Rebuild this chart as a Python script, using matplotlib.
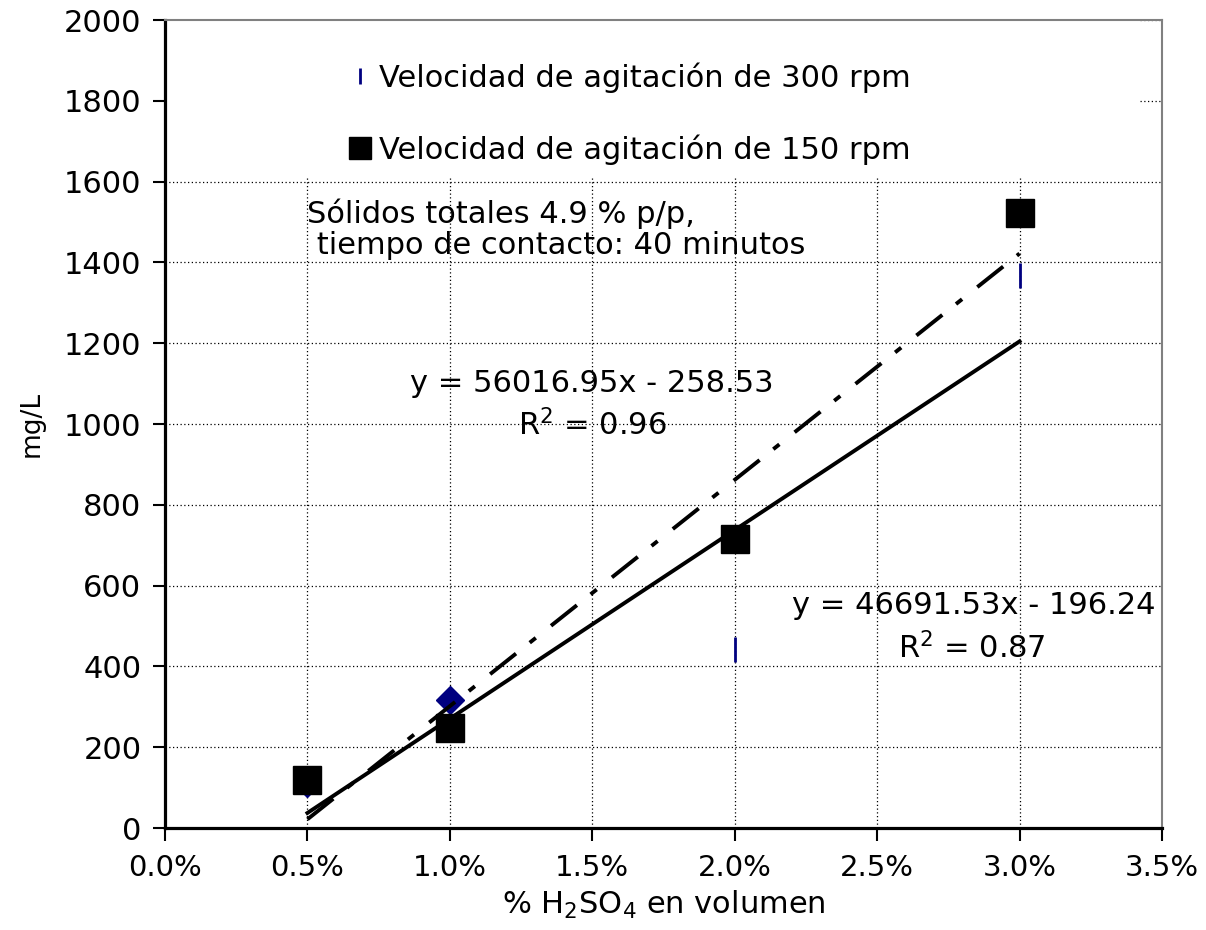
import matplotlib
matplotlib.use("Agg")
import matplotlib.pyplot as plt
import numpy as np
from matplotlib.ticker import PercentFormatter, MultipleLocator
from matplotlib.lines import Line2D
from matplotlib.patches import Rectangle

plt.rcParams['font.family'] = ['DejaVu Sans']

# ---- data ----
acid = [0.005, 0.01, 0.02, 0.03]          # fraction H2SO4
rpm300 = [112, 318, 442, 1370]            # mg/L
rpm150 = [120, 248, 715, 1522]            # mg/L
fit300 = (46691.53, -196.24)              # slope, intercept
fit150 = (56016.95, -258.53)
r2_300 = 0.87
r2_150 = 0.96
label300 = "Velocidad de agitación de 300 rpm"
label150 = "Velocidad de agitación de 150 rpm"
note = "Sólidos totales 4.9 % p/p,\n tiempo de contacto: 40 minutos"

fig = plt.figure(figsize=(12.06, 9.3), dpi=100)
ax = fig.add_axes([165/1206, 1-828/930, (1162-165)/1206, (828-20)/930])

ax.set_xlim(0, 0.035)
ax.set_ylim(0, 2000)
ax.xaxis.set_major_locator(MultipleLocator(0.005))
ax.yaxis.set_major_locator(MultipleLocator(200))
ax.xaxis.set_major_formatter(PercentFormatter(xmax=1, decimals=1))

ax.set_axisbelow(True)
ax.grid(True, color='black', linestyle=(0, (1, 2)), linewidth=0.9)

# white legend area covering grid
ax.add_patch(Rectangle((0, (828-178)/808), (1138-165)/997, 1, transform=ax.transAxes,
                       facecolor='white', edgecolor='none', zorder=1))

navy = '#000080'
ax.plot(acid, rpm300, linestyle='none', marker='|', markersize=18,
        markeredgewidth=2, color=navy, zorder=2)
ax.plot(acid[:2], rpm300[:2], linestyle='none', marker='D', markersize=14,
        color=navy, zorder=2)
ax.plot(acid, rpm150, linestyle='none', marker='s', markersize=20,
        color='black', zorder=3)

xl = np.array([acid[0], acid[-1]])
ax.plot(xl, fit300[0]*xl + fit300[1], color='black', linewidth=2.8, zorder=4)
ax.plot(xl, fit150[0]*xl + fit150[1], color='black', linewidth=2.8,
        linestyle=(0, (8.5, 4.5, 2, 5)), zorder=4)

fs = 22
ax.text(0.0150, 1100, f"y = {fit150[0]:.2f}x - {abs(fit150[1]):.2f}", fontsize=fs,
        ha='center', va='center', zorder=5)
ax.text(0.0150, 997, f"R$^2$ = {r2_150:.2f}", fontsize=fs, ha='center', va='center', zorder=5)
ax.text(0.0284, 550, f"y = {fit300[0]:.2f}x - {abs(fit300[1]):.2f}", fontsize=fs,
        ha='center', va='center', zorder=5)
ax.text(0.0283, 446, f"R$^2$ = {r2_300:.2f}", fontsize=fs, ha='center', va='center', zorder=5)
ax.text(0.0050, 1482, note, fontsize=fs, ha='left', va='center', linespacing=1.1, zorder=5)

handles = [Line2D([], [], linestyle='none', marker='|', markersize=12, markeredgewidth=2, color=navy),
           Line2D([], [], linestyle='none', marker='s', markersize=16, color='black')]
leg = ax.legend(handles, [label300, label150], loc='upper left',
                bbox_to_anchor=((345-165)/997, (828-62)/808), frameon=False,
                fontsize=fs, labelspacing=1.38, handletextpad=0.1, handlelength=1.0,
                borderaxespad=0, borderpad=0)
leg.set_zorder(6)

for s in ['left', 'bottom']:
    ax.spines[s].set_linewidth(2.3)
    ax.spines[s].set_color('black')
for s in ['top', 'right']:
    ax.spines[s].set_linewidth(1.5)
    ax.spines[s].set_color('#808080')

ax.tick_params(axis='both', direction='out', length=9, width=1.5, pad=8)
ax.tick_params(axis='y', labelsize=22)
ax.tick_params(axis='x', labelsize=21, pad=10)

ax.set_xlabel("% H$_2$SO$_4$ en volumen", fontsize=22, labelpad=5)
ax.set_ylabel("mg/L", fontsize=19, labelpad=14)

fig.savefig("out.png", dpi=100)
